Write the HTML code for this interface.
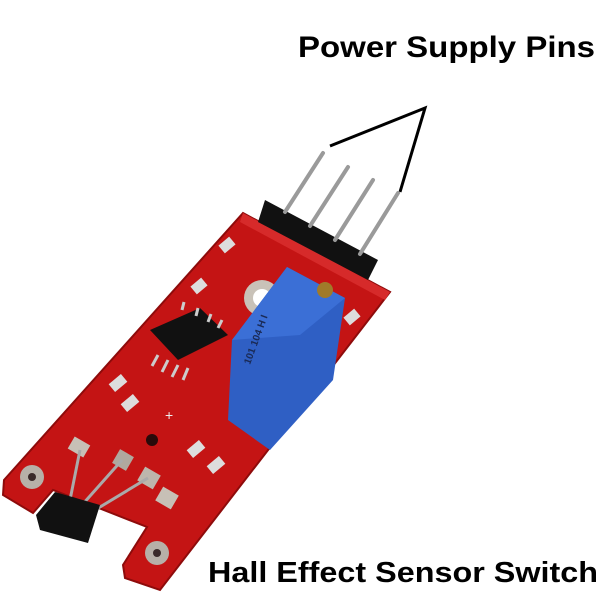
<!DOCTYPE html>
<html><head><meta charset="utf-8"><style>
html,body{margin:0;padding:0;background:#fff;width:600px;height:600px;overflow:hidden}
svg{display:block}
text{font-family:"Liberation Sans",sans-serif;font-weight:bold;fill:#000}
</style></head><body>
<svg width="600" height="600" viewBox="0 0 600 600" xmlns="http://www.w3.org/2000/svg">
<rect width="600" height="600" fill="#fff"/>
<polyline points="330,146 425,108 400,192" fill="none" stroke="#000" stroke-width="3"/>
<text x="298" y="57" font-size="30" textLength="297" lengthAdjust="spacingAndGlyphs">Power Supply Pins</text>
<text x="208" y="582" font-size="29" textLength="390" lengthAdjust="spacingAndGlyphs">Hall Effect Sensor Switch</text>
<!-- board -->
<polygon points="243,213 390,292 160,590 125,578 123,565 147,527 53,490 33,513 3,495 4,480" fill="#c41414" stroke="#8e0b0b" stroke-width="2"/>
<polygon points="243,213 390,292 385,300 240,222" fill="#d62a2a"/>
<!-- holes -->
<circle cx="32" cy="477" r="12" fill="#b7b0a8"/><circle cx="32" cy="477" r="4" fill="#3a2a2a"/>
<circle cx="157" cy="553" r="12" fill="#b7b0a8"/><circle cx="157" cy="553" r="4" fill="#3a2a2a"/>
<circle cx="262" cy="298" r="18" fill="#c9c2b8"/><circle cx="262" cy="298" r="9" fill="#fff"/>
<circle cx="152" cy="440" r="6" fill="#2a0a0a"/>
<!-- pads -->
<rect x="70" y="440" width="18" height="14" fill="#c7c0b6" transform="rotate(30 79 447)"/>
<rect x="115" y="452" width="16" height="16" fill="#b0a89e" transform="rotate(30 123 460)"/>
<rect x="140" y="470" width="18" height="16" fill="#bdb6ac" transform="rotate(30 149 478)"/>
<rect x="158" y="490" width="18" height="16" fill="#c7c0b6" transform="rotate(30 167 498)"/>
<rect x="110" y="378" width="16" height="10" fill="#ddd" transform="rotate(-40 118 383)"/>
<rect x="122" y="398" width="16" height="10" fill="#ddd" transform="rotate(-40 130 403)"/>
<rect x="188" y="444" width="16" height="10" fill="#ddd" transform="rotate(-40 196 449)"/>
<rect x="208" y="460" width="16" height="10" fill="#ddd" transform="rotate(-40 216 465)"/>
<rect x="220" y="240" width="14" height="10" fill="#ddd" transform="rotate(-40 227 245)"/>
<rect x="192" y="281" width="14" height="10" fill="#ddd" transform="rotate(-40 199 286)"/>
<rect x="345" y="312" width="14" height="10" fill="#ddd" transform="rotate(-40 352 317)"/>
<!-- chip -->
<polygon points="150,330 200,308 228,335 178,360" fill="#111"/>
<g stroke="#ccc" stroke-width="3">
<line x1="158" y1="355" x2="152" y2="366"/><line x1="168" y1="360" x2="162" y2="372"/><line x1="178" y1="365" x2="172" y2="377"/><line x1="188" y1="368" x2="183" y2="380"/>
<line x1="182" y1="310" x2="184" y2="302"/><line x1="196" y1="316" x2="198" y2="308"/><line x1="208" y1="322" x2="211" y2="314"/><line x1="218" y1="328" x2="222" y2="320"/>
</g>
<!-- transistor -->
<g stroke="#aaa" stroke-width="3" fill="none">
<line x1="80" y1="450" x2="70" y2="500"/><line x1="122" y1="460" x2="82" y2="505"/><line x1="148" y1="478" x2="95" y2="510"/>
</g>
<polygon points="55,492 100,505 88,543 40,530 36,515" fill="#111"/>
<!-- header -->
<polygon points="265,200 378,260 368,280 258,222" fill="#111"/>
<g stroke="#9a9a9a" stroke-width="4" stroke-linecap="round">
<line x1="285" y1="212" x2="323" y2="153"/>
<line x1="310" y1="226" x2="348" y2="167"/>
<line x1="335" y1="240" x2="373" y2="180"/>
<line x1="360" y1="254" x2="398" y2="193"/>
</g>
<!-- potentiometer -->
<polygon points="287,267 345,298 333,380 270,450 228,420 232,340" fill="#2f5fc4"/>
<polygon points="287,267 345,298 300,335 232,340" fill="#3b6fd6"/>
<circle cx="325" cy="290" r="8" fill="#a07a2a"/>
<text x="0" y="0" font-size="10" transform="translate(250,365) rotate(-70)" style="fill:#1a2a55">101 104 H I</text>
<text x="0" y="0" font-size="14" transform="translate(165,420)" style="fill:#eee;font-weight:normal">+</text>
</svg>
</body></html>
